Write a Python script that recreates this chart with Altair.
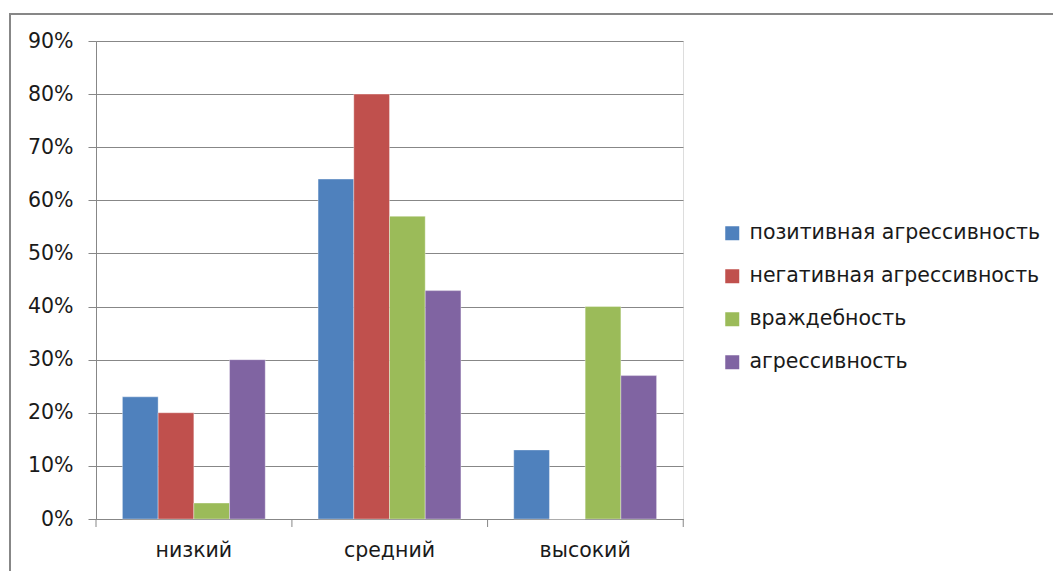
import altair as alt
import pandas as pd

categories = ["низкий", "средний", "высокий"]
series = ["позитивная агрессивность", "негативная агрессивность", "враждебность", "агрессивность"]
colors = ["#4F81BD", "#C0504D", "#9BBB59", "#8064A2"]
values = {
    "позитивная агрессивность": [0.23, 0.64, 0.13],
    "негативная агрессивность": [0.20, 0.80, 0.00],
    "враждебность": [0.03, 0.57, 0.40],
    "агрессивность": [0.30, 0.43, 0.27],
}
y_ticks = [0, 0.1, 0.2, 0.3, 0.4, 0.5, 0.6, 0.7, 0.8, 0.9]

rows = []
for s in series:
    for c, v in zip(categories, values[s]):
        rows.append({"cat": c, "series": s, "value": v})
df = pd.DataFrame(rows)
cat_df = pd.DataFrame({"cat": categories})

FONT = "DejaVu Sans"
GRAY = "#878787"
FS = 20.5

xscale = alt.Scale(domain=categories, paddingInner=0.27, paddingOuter=0.135)

bars = alt.Chart(df).mark_bar(stroke="white", strokeOpacity=0.35, strokeWidth=1).encode(
    x=alt.X("cat:N", sort=categories, title=None, scale=xscale,
            axis=alt.Axis(labelAngle=0, ticks=False, domainColor=GRAY,
                          labelFontSize=FS, labelFont=FONT, labelColor="#1a1a1a",
                          labelPadding=21)),
    xOffset=alt.XOffset("series:N", sort=series,
                        scale=alt.Scale(paddingInner=0, paddingOuter=0)),
    y=alt.Y("value:Q", title=None,
            scale=alt.Scale(domain=[0, 0.9], nice=False),
            axis=alt.Axis(values=y_ticks, format=".0%", tickSize=8, tickColor=GRAY,
                          domainColor=GRAY, gridColor=GRAY, labelFontSize=FS,
                          labelFont=FONT, labelColor="#1a1a1a", labelPadding=15)),
    color=alt.Color("series:N", sort=series,
                    scale=alt.Scale(domain=series, range=colors),
                    legend=alt.Legend(title=None, orient="none", legendX=626, legendY=182,
                                      symbolType="square", symbolSize=196,
                                      symbolStrokeWidth=0, labelFontSize=FS,
                                      labelFont=FONT, labelColor="#1a1a1a",
                                      labelLimit=500,
                                      rowPadding=22, labelOffset=7, padding=0)),
)

# category boundary ticks below the x axis (band start + band width + half the gap)
bound_ticks = alt.Chart(cat_df).mark_rule(color=GRAY, strokeWidth=1).encode(
    x=alt.X("cat:N", sort=categories, scale=xscale),
    xOffset=alt.value(169.5),
    y=alt.value(478), y2=alt.value(486),
)
left_tick = alt.Chart(cat_df.head(1)).mark_rule(color=GRAY, strokeWidth=1).encode(
    x=alt.value(0), y=alt.value(478), y2=alt.value(486),
)

frame = alt.Chart(pd.DataFrame({"a": [0]})).mark_rect(
    fill=None, stroke=GRAY, strokeWidth=2
).encode(
    x=alt.value(-86), x2=alt.value(1000), y=alt.value(-27), y2=alt.value(600)
)

chart = alt.layer(frame, bars, bound_ticks, left_tick).properties(
    width=587, height=478,
    autosize=alt.AutoSizeParams(type="none"),
    padding={"left": 96, "top": 41, "right": 370, "bottom": 52},
).configure_view(stroke=None).configure(background="white")

chart.save("out.html", embed_options={"renderer": "svg", "actions": False})
